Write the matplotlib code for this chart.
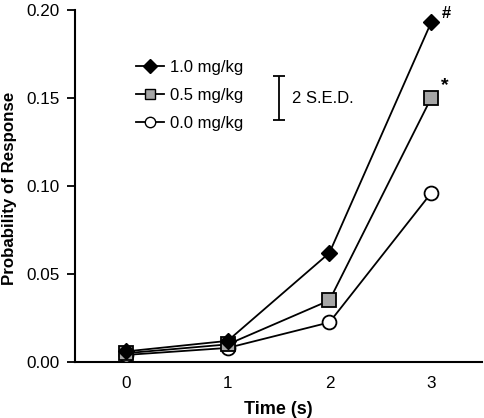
import matplotlib
matplotlib.use("Agg")
import matplotlib.pyplot as plt
from matplotlib.lines import Line2D

plt.rcParams['font.family'] = ['Liberation Sans', 'DejaVu Sans']

time = [0, 1, 2, 3]
dose_10 = [0.006, 0.012, 0.062, 0.193]
dose_05 = [0.005, 0.010, 0.035, 0.150]
dose_00 = [0.004, 0.008, 0.0225, 0.096]
labels = ["1.0 mg/kg", "0.5 mg/kg", "0.0 mg/kg"]
yticks = [0.00, 0.05, 0.10, 0.15, 0.20]
sed = 0.025

fig = plt.figure(figsize=(4.84, 4.18), dpi=100)
ax = fig.add_axes([0.155, 0.134, 0.841, 0.842])

lw = 1.3
h1, = ax.plot(time, dose_00, color='black', lw=lw, marker='o', ms=10,
              mfc='white', mec='black', mew=1.3, zorder=3)
h2, = ax.plot(time, dose_05, color='black', lw=lw, marker='s', ms=10,
              mfc='#a6a6a6', mec='black', mew=1.3, zorder=4)
h3, = ax.plot(time, dose_10, color='black', lw=lw, marker='D', ms=8.5,
              mfc='black', mec='black', mew=1.0, zorder=5)

ax.text(3.1, dose_10[3] + 0.0005, '#', fontsize=12, fontweight='bold', ha='left', va='bottom')
ax.text(3.1, dose_05[3] + 0.0025, '*', fontsize=14, fontweight='bold', ha='left', va='bottom')

ax.errorbar([1.5], [0.150], yerr=[sed / 2], color='black', lw=1.3, capsize=4, capthick=1.3)
ax.text(1.63, 0.1495, '2 S.E.D.', fontsize=12, ha='left', va='center')

leg_handles = [
    Line2D([], [], color='black', lw=lw, marker='D', ms=7, mfc='black', mec='black'),
    Line2D([], [], color='black', lw=lw, marker='s', ms=7.5, mfc='#a6a6a6', mec='black', mew=1.0),
    Line2D([], [], color='black', lw=lw, marker='o', ms=7.5, mfc='white', mec='black', mew=1.0),
]
ax.legend(leg_handles, labels, loc='center left', bbox_to_anchor=(0.13, 0.758),
          frameon=False, fontsize=12, handlelength=1.65, handletextpad=0.4,
          labelspacing=0.78, borderpad=0)

ax.set_xlim(-0.5, 3.5)
ax.set_ylim(0, 0.2)
ax.set_xticks(time)
ax.set_yticks(yticks)
ax.set_yticklabels([f"{v:.2f}" for v in yticks])
ax.tick_params(axis='x', length=0, pad=10, labelsize=12.3)
ax.tick_params(axis='y', length=6, width=1.3, direction='out', labelsize=12.3, pad=5)
for s in ['top', 'right']:
    ax.spines[s].set_visible(False)
for s in ['left', 'bottom']:
    ax.spines[s].set_linewidth(1.5)

ax.set_xlabel('Time (s)', fontsize=13, fontweight='bold', labelpad=7)
ax.set_ylabel('Probability of Response', fontsize=12.2, fontweight='bold')
ax.yaxis.set_label_coords(-0.143, 0.493)

fig.savefig('out.png', dpi=100)
